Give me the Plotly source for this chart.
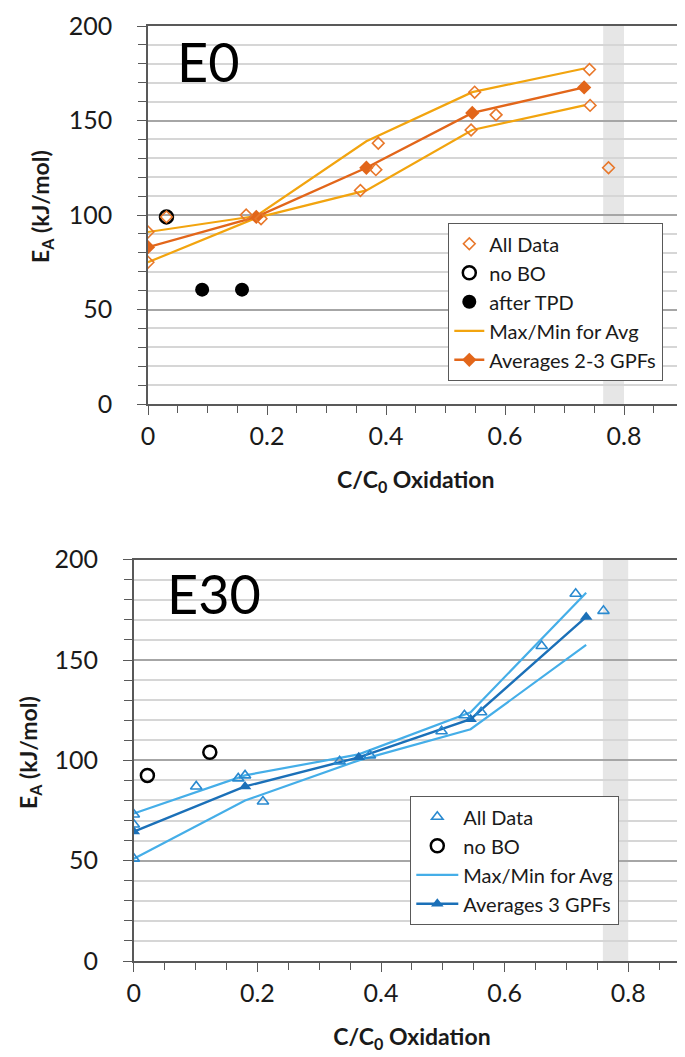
import plotly.graph_objects as go

# ---------------- data: E0 ----------------
e0_all_x = [0, 0, 0.031, 0.165, 0.19, 0.357, 0.383, 0.387, 0.543, 0.549, 0.585, 0.742, 0.743, 0.774]
e0_all_y = [91, 75, 99, 100, 98, 113, 124, 138, 145, 165, 153, 177, 158, 125]
e0_nobo_x = [0.031]
e0_nobo_y = [99]
e0_tpd_x = [0.091, 0.158]
e0_tpd_y = [60.5, 60.5]
e0_avg_x = [0, 0.182, 0.367, 0.545, 0.733]
e0_avg_y = [83, 99, 125, 154, 167.5]
e0_max_y = [91, 99.5, 139, 165, 177.5]
e0_min_y = [75, 98.5, 113, 145, 158]

# ---------------- data: E30 ----------------
e30_all_x = [0, 0, 0, 0.101, 0.169, 0.180, 0.209, 0.333, 0.382, 0.498, 0.535, 0.562, 0.660, 0.715, 0.760]
e30_all_y = [73, 68, 51, 87, 91, 92.5, 79.5, 99.5, 102.5, 114.5, 122.5, 124, 157, 183, 174.5]
e30_nobo_x = [0.022, 0.123]
e30_nobo_y = [92.5, 104]
e30_avg_x = [0, 0.18, 0.364, 0.545, 0.732]
e30_avg_y = [64.5, 87, 101.5, 120.5, 171.5]
e30_max_y = [73.5, 92.5, 103, 124, 183.5]
e30_min_y = [51, 80, 100, 115.5, 157.5]

x_ticks = [0, 0.2, 0.4, 0.6, 0.8]
x_ticklabels = ["0", "0.2", "0.4", "0.6", "0.8"]
y_ticks = [0, 50, 100, 150, 200]

FONT = "Lato"
W, H = 685, 1057

# colours
OR_DATA = "#E8772A"
OR_AVG = "#E2661A"
OR_MM = "#F2A40F"
BL_DATA = "#2A8AD0"
BL_AVG = "#1B70B8"
BL_MM = "#45AEE8"

fig = go.Figure()

# ---- top chart traces ----
fig.add_trace(go.Scatter(x=e0_avg_x, y=e0_max_y, mode="lines",
                         line=dict(color=OR_MM, width=2.2), name="Max/Min for Avg",
                         legendgroup="mm0", xaxis="x", yaxis="y", legend="legend", legendrank=4))
fig.add_trace(go.Scatter(x=e0_avg_x, y=e0_min_y, mode="lines",
                         line=dict(color=OR_MM, width=2.2), showlegend=False, legendgroup="mm0",
                         xaxis="x", yaxis="y"))
fig.add_trace(go.Scatter(x=e0_avg_x, y=e0_avg_y, mode="lines+markers",
                         line=dict(color=OR_AVG, width=2.4),
                         marker=dict(symbol="diamond", size=11, color=OR_AVG),
                         name="Averages 2-3 GPFs", legendgroup="avg0",
                         xaxis="x", yaxis="y", legend="legend", legendrank=5))
fig.add_trace(go.Scatter(x=e0_nobo_x, y=e0_nobo_y, mode="markers",
                         marker=dict(symbol="circle-open", size=13, color="black", line=dict(width=2.5)),
                         name="no BO", legendgroup="nobo0",
                         xaxis="x", yaxis="y", legend="legend", legendrank=2))
fig.add_trace(go.Scatter(x=e0_all_x, y=e0_all_y, mode="markers",
                         marker=dict(symbol="diamond-open", size=9, color=OR_DATA, line=dict(width=1.6)),
                         name="All Data", legendgroup="all0",
                         xaxis="x", yaxis="y", legend="legend", legendrank=1))
fig.add_trace(go.Scatter(x=e0_tpd_x, y=e0_tpd_y, mode="markers",
                         marker=dict(symbol="circle", size=14, color="black"),
                         name="after TPD", legendgroup="tpd0",
                         xaxis="x", yaxis="y", legend="legend", legendrank=3))

# ---- bottom chart traces ----
fig.add_trace(go.Scatter(x=e30_avg_x, y=e30_max_y, mode="lines",
                         line=dict(color=BL_MM, width=2.2), name="Max/Min for Avg", legendgroup="mm30",
                         xaxis="x2", yaxis="y2", legend="legend2", legendrank=3))
fig.add_trace(go.Scatter(x=e30_avg_x, y=e30_min_y, mode="lines",
                         line=dict(color=BL_MM, width=2.2), showlegend=False, legendgroup="mm30",
                         xaxis="x2", yaxis="y2"))
fig.add_trace(go.Scatter(x=e30_avg_x, y=e30_avg_y, mode="lines+markers",
                         line=dict(color=BL_AVG, width=2.4),
                         marker=dict(symbol="triangle-up", size=11, color=BL_AVG),
                         name="Averages 3 GPFs", legendgroup="avg30",
                         xaxis="x2", yaxis="y2", legend="legend2", legendrank=4))
fig.add_trace(go.Scatter(x=e30_all_x, y=e30_all_y, mode="markers",
                         marker=dict(symbol="triangle-up-open", size=10, color=BL_DATA, line=dict(width=1.6)),
                         name="All Data", legendgroup="all30",
                         xaxis="x2", yaxis="y2", legend="legend2", legendrank=1))
fig.add_trace(go.Scatter(x=e30_nobo_x, y=e30_nobo_y, mode="markers",
                         marker=dict(symbol="circle-open", size=13, color="black", line=dict(width=2.5)),
                         name="no BO", legendgroup="nobo30",
                         xaxis="x2", yaxis="y2", legend="legend2", legendrank=2))

# ---- geometry (pixels) ----
top_l, top_r, top_t, top_b = 140, 675.5, 18, 396
bot_l, bot_r, bot_t, bot_b = 125.8, 682, 551.7, 953

def xd(a, b):
    return [a / W, b / W]

def yd(t, b):
    return [1 - b / H, 1 - t / H]

tickfont = dict(family=FONT, size=25, color="#1a1a1a")
titlefont = dict(family=FONT, size=23, color="#1a1a1a")

def xaxis_main(domain, anchor):
    return dict(domain=domain, anchor=anchor, range=[0, 0.9], tickvals=x_ticks, ticktext=x_ticklabels,
                ticks="outside", ticklen=9, tickwidth=1.3, tickcolor="#595959",
                minor=dict(ticks="outside", ticklen=7, dtick=0.05, tickcolor="#595959", tickwidth=1.2),
                showline=True, linecolor="#595959", linewidth=1.5, mirror=True,
                showgrid=False, zeroline=False, tickfont=tickfont, ticklabeloverflow="allow",
                title=dict(text="<b>C/C<sub>0</sub> Oxidation</b>", font=titlefont, standoff=23))

def yaxis_main(domain, anchor):
    return dict(domain=domain, anchor=anchor, range=[0, 200], tickvals=y_ticks,
                ticks="outside", ticklen=9, tickwidth=1.3, tickcolor="#595959",
                minor=dict(ticks="outside", ticklen=8, dtick=10, tickcolor="#595959", tickwidth=1.2,
                           showgrid=True, gridcolor="#D6D6D6", gridwidth=1.6),
                showgrid=True, gridcolor="#A6A6A6", gridwidth=1.8,
                showline=True, linecolor="#595959", linewidth=1.5, mirror=True,
                zeroline=False, tickfont=tickfont, ticklabeloverflow="allow",
                ticklabelstandoff=20)

legend_common = dict(bgcolor="white", bordercolor="#595959", borderwidth=1.3,
                     font=dict(family=FONT, size=20, color="#1a1a1a"),
                     xanchor="left", yanchor="top", traceorder="normal")

fig.update_layout(
    width=W, height=H,
    margin=dict(l=0, r=0, t=0, b=0, autoexpand=False),
    paper_bgcolor="white", plot_bgcolor="white",
    font=dict(family=FONT, color="#1a1a1a"),
    xaxis=xaxis_main(xd(top_l, top_r), "y"),
    yaxis=yaxis_main(yd(top_t, top_b), "x"),
    xaxis2=xaxis_main(xd(bot_l, bot_r), "y2"),
    yaxis2=yaxis_main(yd(bot_t, bot_b), "x2"),
    legend=dict(x=440 / W, y=1 - 215 / H, itemwidth=30, tracegroupgap=5.5, **legend_common),
    legend2=dict(x=402 / W, y=1 - 788 / H, itemwidth=42, tracegroupgap=7.5, **legend_common),
    shapes=[
        dict(type="rect", xref="x", yref="y", x0=0.765, x1=0.8, y0=0, y1=200,
             fillcolor="#E6E6E6", line=dict(width=0), layer="below"),
        dict(type="rect", xref="x2", yref="y2", x0=0.759, x1=0.8, y0=0, y1=200,
             fillcolor="#E6E6E6", line=dict(width=0), layer="below"),
    ],
    annotations=[
        dict(text="E0", xref="x", yref="y", x=0.046, y=181, xanchor="left", yanchor="middle",
             showarrow=False, font=dict(family=FONT, size=54, color="black")),
        dict(text="E30", xref="x2", yref="y2", x=0.05, y=183, xanchor="left", yanchor="middle",
             showarrow=False, font=dict(family=FONT, size=54, color="black")),
        dict(text="<b>E<sub>A</sub> (kJ/mol)</b>", xref="paper", yref="paper", textangle=-90,
             x=34 / W, y=1 - 199 / H, xanchor="center", yanchor="middle", showarrow=False,
             font=titlefont),
        dict(text="<b>E<sub>A</sub> (kJ/mol)</b>", xref="paper", yref="paper", textangle=-90,
             x=21 / W, y=1 - 745 / H, xanchor="center", yanchor="middle", showarrow=False,
             font=titlefont),
    ],
)

fig.write_html("out.html")
